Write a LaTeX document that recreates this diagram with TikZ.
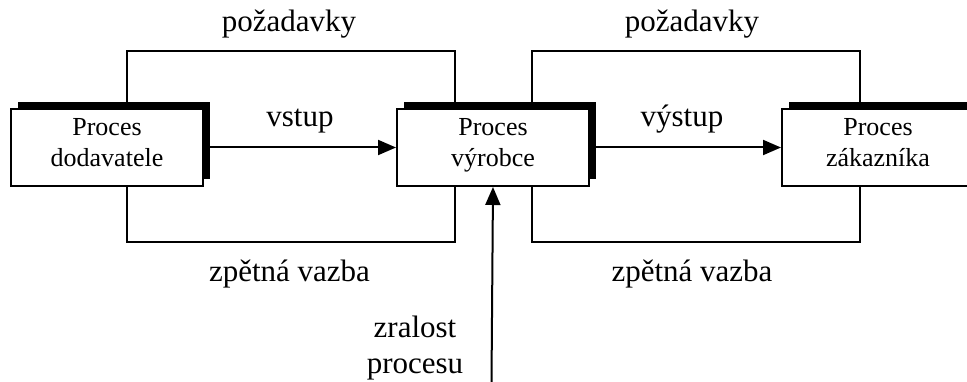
\documentclass[tikz,border=0pt]{standalone}
\usepackage{fontspec}
\setmainfont{Liberation Serif}
\usetikzlibrary{positioning,shadows,arrows.meta}

\tikzset{
	proc/.style={draw, fill=white, line width=2pt, minimum width=192pt, minimum height=77pt,
		align=center, text depth=11pt, font=\fontsize{26}{31}\selectfont,
		general shadow={fill=black, shadow xshift=7pt, shadow yshift=7pt}},
	lbl/.style={inner sep=0pt, align=center, font=\fontsize{31}{36}\selectfont},
	link/.style={line width=2pt},
	arr/.style={line width=2pt, -{Triangle[length=18pt,width=15pt]}}
}

\begin{document}
\begin{tikzpicture}[x=1pt, y=-1pt]
	\useasboundingbox (0,0) rectangle (967,382);
	\node[proc] (dod) at (107,147.5) {Proces\\dodavatele};
	\node[proc, right=192pt of dod] (vyr) {Proces\\výrobce};
	\node[proc, right=191pt of vyr] (zak) {Proces\\zákazníka};
	\coordinate (req1) at (290,51);
	\coordinate (req2) at (693.5,51);
	\coordinate (fb1) at (290,242);
	\coordinate (fb2) at (693.5,242);
	\coordinate (mat) at (491.5,382);
	\draw[link] ([xshift=20pt]dod.north) |- (req1) -| ([xshift=-38.5pt]vyr.north);
	\draw[link] ([xshift=38.5pt]vyr.north) |- (req2) -| ([xshift=-18.5pt]zak.north);
	\draw[link] ([xshift=20pt]dod.south) |- (fb1) -| ([xshift=-38.5pt]vyr.south);
	\draw[link] ([xshift=38.5pt]vyr.south) |- (fb2) -| ([xshift=-18.5pt]zak.south);
	\draw[arr] (dod.east) -- (vyr.west);
	\draw[arr] (vyr.east) -- (zak.west);
	\draw[arr] (mat) -- (vyr.south);
	\node[lbl, anchor=base] (lreq1) at (289,32) {požadavky};
	\node[lbl, anchor=base] (lreq2) at (692,32) {požadavky};
	\node[lbl, anchor=base] (lin) at (300,127) {vstup};
	\node[lbl, anchor=base] (lout) at (682,127) {výstup};
	\node[lbl, anchor=base] (lfb1) at (289.5,282) {zpětná vazba};
	\node[lbl, anchor=base] (lfb2) at (692,282) {zpětná vazba};
	\node[lbl, anchor=north] (lmat) at (415,316) {zralost\\procesu};
\end{tikzpicture}
\end{document}
